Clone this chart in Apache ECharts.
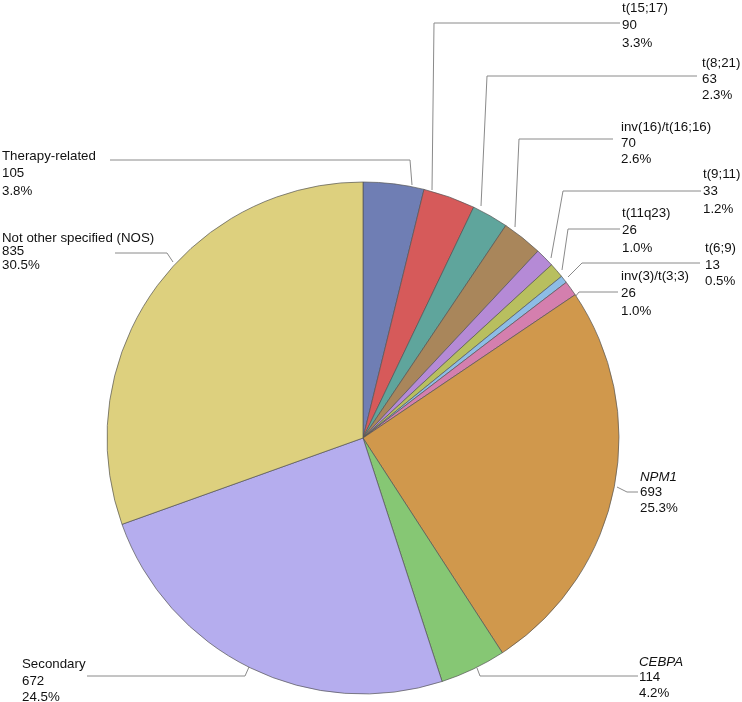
<!DOCTYPE html>
<html>
<head>
<meta charset="utf-8">
<script src="https://cdn.jsdelivr.net/npm/echarts@6/dist/echarts.min.js"></script>
<style>
html,body{margin:0;padding:0;background:#fff;}
#chart{width:742px;height:702px;}
</style>
</head>
<body>
<div id="chart"></div>
<script>
// ---- data ----
var categories = ['Therapy-related','t(15;17)','t(8;21)','inv(16)/t(16;16)','t(9;11)','t(11q23)','t(6;9)','inv(3)/t(3;3)','NPM1','CEBPA','Secondary','Not other specified (NOS)'];
var counts = [105, 90, 63, 70, 33, 26, 13, 26, 693, 114, 672, 835];
var percentLabels = ['3.8%','3.3%','2.3%','2.6%','1.2%','1.0%','0.5%','1.0%','25.3%','4.2%','24.5%','30.5%'];
var italicNames = ['NPM1','CEBPA'];

// ---- styles / layout (not data) ----
var colors = ['#6f7eb4','#d65a5a','#5fa59c','#a9865b','#b58ad6','#b8bf5f','#8dbde6','#d47fae','#d0984c','#86c774','#b5adee','#ddd07e'];
// label layout: text top-left x,y, line height, leader points
var labelPos = [
  {x:2,   y:147.5, lh:17.5, pts:[[412,185],[410,160],[110,160]]},
  {x:622, y:-0.5,  lh:17.5, pts:[[432,190],[434,23],[620,23]]},
  {x:702, y:55.5,  lh:16,   pts:[[481,206],[487,76],[697,76]]},
  {x:621, y:119.5, lh:16,   pts:[[515,227],[519,139],[613,139]]},
  {x:703, y:165.5, lh:17.5, pts:[[551,258],[563,191],[701,191]]},
  {x:622, y:204.5, lh:17.5, pts:[[562,270],[568,229],[620,229]]},
  {x:705, y:240.5, lh:16.5, pts:[[568,277],[582,263],[700,263]]},
  {x:621, y:267.5, lh:17.5, pts:[[575,297],[579,292],[618,292]]},
  {x:640, y:469.5, lh:15.5, pts:[[617,487],[627,492],[638,492]]},
  {x:639, y:654.5, lh:15.5, pts:[[477,668],[480,676],[638,676]]},
  {x:22,  y:656.5, lh:16.5, pts:[[249,667],[245,676],[87,676]]},
  {x:2,   y:231.5, lh:13.5, pts:[[173,262],[167,253],[115,253]]}
];

var FONT = 'Liberation Sans, Arial, sans-serif';
var seriesData = categories.map(function(c, i){
  var lh = labelPos[i].lh;
  var it = italicNames.indexOf(c) >= 0 ? 'italic' : 'normal';
  return {
    name: c,
    value: counts[i],
    itemStyle: {color: colors[i]},
    label: {
      formatter: '{n|' + c + '}\n{v|' + counts[i] + '}\n{p|' + percentLabels[i] + '}',
      rich: {
        n: {fontStyle: it, lineHeight: lh, fontSize: 13.3, color: '#111', fontFamily: FONT},
        v: {lineHeight: lh, fontSize: 13.3, color: '#111', fontFamily: FONT},
        p: {lineHeight: lh, fontSize: 13.3, color: '#111', fontFamily: FONT}
      }
    }
  };
});

var chart = echarts.init(document.getElementById('chart'), null, {renderer: 'canvas'});
chart.setOption({
  backgroundColor: '#ffffff',
  animation: false,
  series: [{
    type: 'pie',
    center: [363, 438],
    radius: 256,
    startAngle: 90,
    clockwise: true,
    avoidLabelOverlap: false,
    data: seriesData,
    itemStyle: {borderColor: '#555', borderWidth: 0.7},
    label: {show: true, position: 'outer', align: 'left'},
    labelLine: {show: true, length: 10, length2: 10, lineStyle: {color: '#8a8a8a', width: 1}},
    emphasis: {disabled: true},
    labelLayout: function(params){
      var p = labelPos[params.dataIndex];
      return {
        x: p.x,
        y: p.y,
        align: 'left',
        verticalAlign: 'top',
        labelLinePoints: p.pts
      };
    }
  }]
});
</script>
</body>
</html>
